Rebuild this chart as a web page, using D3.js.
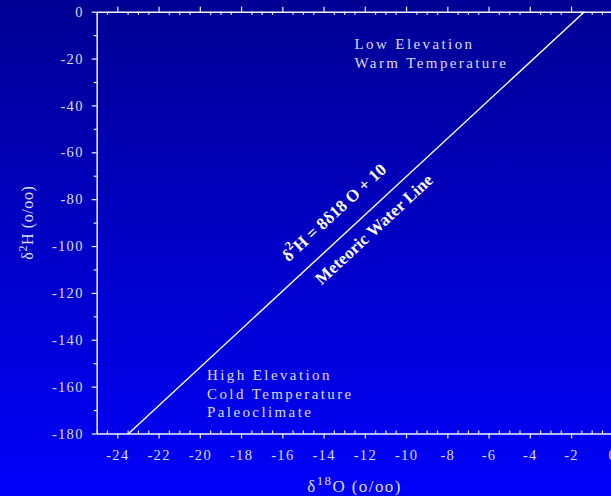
<!DOCTYPE html>
<html><head><meta charset="utf-8">
<script src="https://cdn.jsdelivr.net/npm/d3@7"></script>
<style>
html,body{margin:0;padding:0;background:#0000c0;overflow:hidden}
svg{display:block}
</style></head>
<body>
<script>
// Data
const xMajorTicks = [-24,-22,-20,-18,-16,-14,-12,-10,-8,-6,-4,-2,0];
const yMajorTicks = [0,-20,-40,-60,-80,-100,-120,-140,-160,-180];
const xDomain = [-25, 0];
const yDomain = [-180, 0];
// Meteoric water line endpoints (d18O, d2H)
const lineX = [-23.45, -1.35];
const lineY = [-180, 0];
const annotationsTop = ["Low Elevation", "Warm Temperature"];
const annotationsBottom = ["High Elevation", "Cold Temperature", "Paleoclimate"];

const W = 611, H = 496;
const svg = d3.select("body").append("svg").attr("width", W).attr("height", H);
const defs = svg.append("defs");
const grad = defs.append("linearGradient").attr("id","bg").attr("x1",0).attr("y1",0).attr("x2",0).attr("y2",1);
grad.append("stop").attr("offset","0%").attr("stop-color","#000094");
grad.append("stop").attr("offset","100%").attr("stop-color","#0000fa");
svg.append("rect").attr("width",W).attr("height",H).attr("fill","url(#bg)");

const x = d3.scaleLinear().domain(xDomain).range([96.7, 612.3]);
const y = d3.scaleLinear().domain(yDomain).range([433.5, 11.7]);

const axisColor = "#f2f2ff";
const labelColor = "#dcdcf0";
const serif = "'Liberation Serif','Times New Roman',serif";

const xMinor = d3.range(xDomain[0]*2, xDomain[1]*2+1).map(d=>d/2).filter(d=>!xMajorTicks.includes(d));
const yMinor = d3.range(yDomain[0], yDomain[1]+1, 10).filter(d=>!yMajorTicks.includes(d));

function styleAxis(g){
  g.select(".domain").attr("stroke", axisColor).attr("stroke-width", 1.5);
  g.selectAll(".tick line").attr("stroke", axisColor).attr("stroke-width", 1.2);
  g.selectAll(".tick text").attr("fill", labelColor).style("font-family", serif)
    .style("font-size","14.5px").style("letter-spacing","1.3px");
}

// Bottom axis: major outward, minor inward
const gb = svg.append("g").attr("transform",`translate(0,${y(-180)})`)
  .call(d3.axisBottom(x).tickValues(xMajorTicks).tickSizeInner(5).tickSizeOuter(0).tickPadding(11).tickFormat(d=>String(d)));
styleAxis(gb);
const gbm = svg.append("g").attr("transform",`translate(0,${y(-180)})`)
  .call(d3.axisBottom(x).tickValues(xMinor).tickSizeInner(-3).tickSizeOuter(0).tickFormat(""));
styleAxis(gbm); gbm.select(".domain").remove();

// Top axis
const gt = svg.append("g").attr("transform",`translate(0,${y(0)})`)
  .call(d3.axisTop(x).tickValues(xMajorTicks).tickSizeInner(5).tickSizeOuter(0).tickFormat(""));
styleAxis(gt);
const gtm = svg.append("g").attr("transform",`translate(0,${y(0)})`)
  .call(d3.axisTop(x).tickValues(xMinor).tickSizeInner(-3).tickSizeOuter(0).tickFormat(""));
styleAxis(gtm); gtm.select(".domain").remove();

// Left axis
const gl = svg.append("g").attr("transform",`translate(${x(-25)},0)`)
  .call(d3.axisLeft(y).tickValues(yMajorTicks).tickSizeInner(5).tickSizeOuter(0).tickPadding(8).tickFormat(d=>String(d)));
styleAxis(gl);
const glm = svg.append("g").attr("transform",`translate(${x(-25)},0)`)
  .call(d3.axisLeft(y).tickValues(yMinor).tickSizeInner(3).tickSizeOuter(0).tickFormat(""));
styleAxis(glm); glm.select(".domain").remove();

// Meteoric water line
const pts = lineX.map((d,i)=>[d, lineY[i]]);
svg.append("path").datum(pts)
  .attr("d", d3.line().x(d=>x(d[0])).y(d=>y(d[1])))
  .attr("stroke","#ffffff").attr("stroke-width",1.4).attr("fill","none");

const angle = Math.atan2(y(lineY[1])-y(lineY[0]), x(lineX[1])-x(lineX[0])) * 180/Math.PI;

// Equation label
const eq = svg.append("text")
  .attr("transform",`translate(${x(-13.5)},${y(-85.6)}) rotate(${angle})`)
  .attr("text-anchor","middle").attr("dominant-baseline","central")
  .attr("fill","#ffffff").style("font-family",serif).style("font-weight","bold")
  .style("font-size","17px").style("letter-spacing","0.1px");
eq.append("tspan").text("δ");
eq.append("tspan").attr("dy",-6).style("font-size","12px").text("2");
eq.append("tspan").attr("dy",6).text("H = 8δ18 O + 10");

svg.append("text")
  .attr("transform",`translate(${x(-11.55)},${y(-92.9)}) rotate(${angle})`)
  .attr("text-anchor","middle").attr("dominant-baseline","central")
  .attr("fill","#ffffff").style("font-family",serif).style("font-weight","bold")
  .style("font-size","17px").style("letter-spacing","0.1px")
  .text("Meteoric Water Line");

// Annotations
const annStyle = t => t.attr("fill", labelColor).style("font-family",serif)
  .style("font-size","15px").style("letter-spacing","2.4px");
annotationsTop.forEach((s,i)=>{
  svg.append("text").attr("x", x(-12.5)).attr("y", 49 + i*19).text(s).call(annStyle);
});
annotationsBottom.forEach((s,i)=>{
  svg.append("text").attr("x", x(-19.65)).attr("y", 380 + i*18.5).text(s).call(annStyle);
});

// Axis titles
const xt = svg.append("text").attr("x", x(-12.5)).attr("y", 492).attr("text-anchor","middle")
  .attr("fill", labelColor).style("font-family",serif).style("font-size","17px").style("letter-spacing","1.4px");
xt.append("tspan").text("δ");
xt.append("tspan").attr("dy",-7).style("font-size","13px").text("18");
xt.append("tspan").attr("dy",7).text("O (o/oo)");

const yt = svg.append("text").attr("transform",`translate(33,${y(-90)}) rotate(-90)`).attr("text-anchor","middle")
  .attr("fill", labelColor).style("font-family",serif).style("font-size","16px").style("letter-spacing","0.6px");
yt.append("tspan").text("δ");
yt.append("tspan").attr("dy",-6).style("font-size","12px").text("2");
yt.append("tspan").attr("dy",6).text("H (o/oo)");
</script>
</body></html>
